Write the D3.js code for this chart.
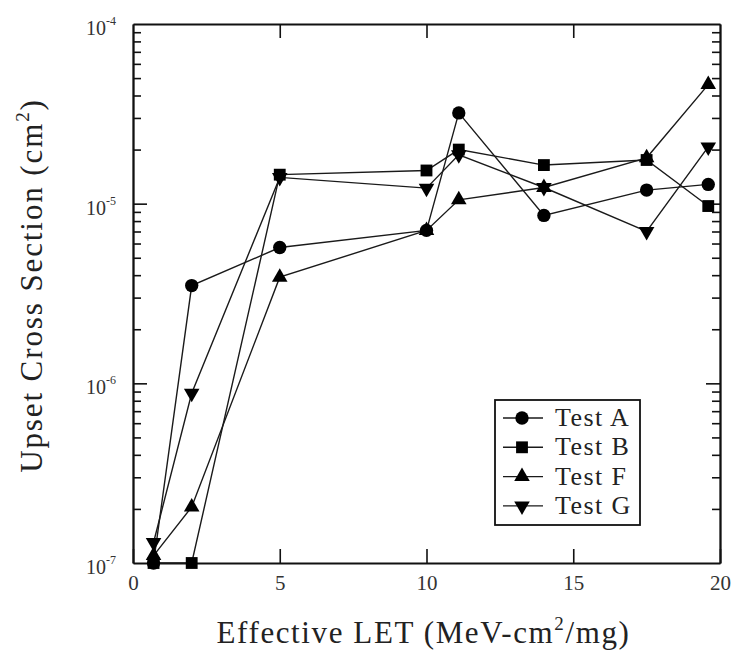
<!DOCTYPE html>
<html><head><meta charset="utf-8">
<script src="https://cdn.jsdelivr.net/npm/d3@7/dist/d3.min.js"></script>
<style>body{margin:0;background:#fff}svg{display:block}</style>
</head><body><svg id="c" width="732" height="652"></svg>
<script>
const xValues = [0.7, 2.0, 5.0, 10.0, 11.1, 14.0, 17.5, 19.6];
const seriesNames = ["Test A", "Test B", "Test F", "Test G"];
const testA = [1.0e-7, 3.5e-6, 5.7e-6, 7.1e-6, 3.2e-5, 8.6e-6, 1.19e-5, 1.28e-5];
const testB = [1.0e-7, 1.0e-7, 1.45e-5, 1.53e-5, 2.0e-5, 1.64e-5, 1.75e-5, 9.7e-6];
const testF = [1.1e-7, 2.05e-7, 3.9e-6, 7.1e-6, 1.05e-5, 1.23e-5, 1.8e-5, 4.6e-5];
const testG = [1.3e-7, 8.8e-7, 1.4e-5, 1.22e-5, 1.87e-5, 1.23e-5, 7.0e-6, 2.07e-5];
const xTicks = [0, 5, 10, 15, 20];
const yDecades = [1e-7, 1e-6, 1e-5, 1e-4];
const yExponents = ["-7", "-6", "-5", "-4"];
const markerTypes = ["circle", "square", "triangle", "triangleDown"];

const svg = d3.select("#c");
const L = 133, R = 720, T = 24, B = 563;
const x = d3.scaleLinear().domain([0, 20]).range([L, R]);
const y = d3.scaleLog().domain([1e-7, 1e-4]).range([B, T]);
const ink = "#111";
const serif = "'Liberation Serif', 'DejaVu Serif', serif";

const minorY = [];
yDecades.slice(0, 3).forEach(d => { for (let k = 2; k <= 9; k++) minorY.push(d * k); });

function styleAxis(g) {
  g.attr("font-family", serif);
  g.selectAll("path.domain").attr("stroke", ink).attr("stroke-width", 1.8);
  g.selectAll(".tick line").attr("stroke", ink).attr("stroke-width", 1.6);
}

// bottom axis
const gb = svg.append("g").attr("transform", `translate(0,${B})`)
  .call(d3.axisBottom(x).tickValues(xTicks).tickSize(-14).tickSizeOuter(0).tickPadding(12).tickFormat(d3.format("d")));
styleAxis(gb);
gb.selectAll("text").attr("font-family", serif).attr("font-size", 21).attr("fill", "#333");

// top axis
const gt = svg.append("g").attr("transform", `translate(0,${T})`)
  .call(d3.axisTop(x).tickValues(xTicks.slice(1, 4)).tickSize(-14).tickSizeOuter(0).tickFormat(""));
styleAxis(gt);

// left axis
const gl = svg.append("g").attr("transform", `translate(${L},0)`)
  .call(d3.axisLeft(y).tickValues(yDecades.slice(1, 3)).tickSize(-14).tickSizeOuter(0).tickFormat(""));
styleAxis(gl);
const glm = svg.append("g").attr("transform", `translate(${L},0)`)
  .call(d3.axisLeft(y).tickValues(minorY).tickSize(-8).tickSizeOuter(0).tickFormat(""));
styleAxis(glm);

// right axis
const gr = svg.append("g").attr("transform", `translate(${R},0)`)
  .call(d3.axisRight(y).tickValues(yDecades.slice(1, 3)).tickSize(-14).tickSizeOuter(0).tickFormat(""));
styleAxis(gr);
const grm = svg.append("g").attr("transform", `translate(${R},0)`)
  .call(d3.axisRight(y).tickValues(minorY).tickSize(-8).tickSizeOuter(0).tickFormat(""));
styleAxis(grm);

// y tick labels with superscripts
yDecades.forEach((d, i) => {
  const t = svg.append("text")
    .attr("x", 116).attr("y", y(d) + 11)
    .attr("text-anchor", "end")
    .attr("font-family", serif).attr("fill", "#333");
  t.append("tspan").attr("font-size", 20).text("10");
  t.append("tspan").attr("font-size", 12).attr("dy", -10).text(yExponents[i]);
});

// axis titles
const xt = svg.append("text")
  .attr("x", (L + R) / 2 - 3).attr("y", 643)
  .attr("text-anchor", "middle").attr("font-family", serif)
  .attr("font-size", 31).attr("letter-spacing", 1.6).attr("fill", "#222");
xt.append("tspan").text("Effective LET (MeV-cm");
xt.append("tspan").attr("font-size", 19).attr("dy", -13).text("2");
xt.append("tspan").attr("dy", 13).text("/mg)");

const yt = svg.append("text")
  .attr("transform", `translate(42,${(T + B) / 2 - 8}) rotate(-90)`)
  .attr("text-anchor", "middle").attr("font-family", serif)
  .attr("font-size", 31).attr("letter-spacing", 1.9).attr("fill", "#222");
yt.append("tspan").text("Upset Cross Section (cm");
yt.append("tspan").attr("font-size", 19).attr("dy", -13).text("2");
yt.append("tspan").attr("dy", 13).text(")");

// series
const allSeries = [testA, testB, testF, testG];
const symbolFor = {
  circle: d3.symbol().type(d3.symbolCircle).size(140),
  square: d3.symbol().type(d3.symbolSquare).size(140),
  triangle: d3.symbol().type(d3.symbolTriangle).size(105),
  triangleDown: d3.symbol().type(d3.symbolTriangle).size(105)
};
const line = d3.line().x(d => x(d[0])).y(d => y(d[1]));

allSeries.forEach((vals, si) => {
  const pts = xValues.map((xv, i) => [xv, vals[i]]);
  svg.append("path").datum(pts).attr("d", line)
    .attr("fill", "none").attr("stroke", "#1a1a1a").attr("stroke-width", 1.4);
});
allSeries.forEach((vals, si) => {
  const type = markerTypes[si];
  svg.append("g").selectAll("path").data(xValues.map((xv, i) => [xv, vals[i]]))
    .join("path")
    .attr("d", symbolFor[type]())
    .attr("transform", d => `translate(${x(d[0])},${y(d[1])})` + (type === "triangleDown" ? " rotate(180)" : ""))
    .attr("fill", "#000");
});

// legend
const lg = svg.append("g");
lg.append("rect").attr("x", 495).attr("y", 400).attr("width", 145).attr("height", 125)
  .attr("fill", "#fff").attr("stroke", ink).attr("stroke-width", 1.8);
seriesNames.forEach((name, i) => {
  const yy = 418 + i * 29.3;
  lg.append("line").attr("x1", 503).attr("x2", 543).attr("y1", yy).attr("y2", yy)
    .attr("stroke", "#1a1a1a").attr("stroke-width", 1.4);
  const type = markerTypes[i];
  lg.append("path").attr("d", symbolFor[type]())
    .attr("transform", `translate(522,${yy})` + (type === "triangleDown" ? " rotate(180)" : ""))
    .attr("fill", "#000");
  lg.append("text").attr("x", 555).attr("y", yy + 8)
    .attr("font-family", serif).attr("font-size", 26).attr("letter-spacing", 1.4)
    .attr("fill", "#222").text(name);
});
</script>
</body></html>
